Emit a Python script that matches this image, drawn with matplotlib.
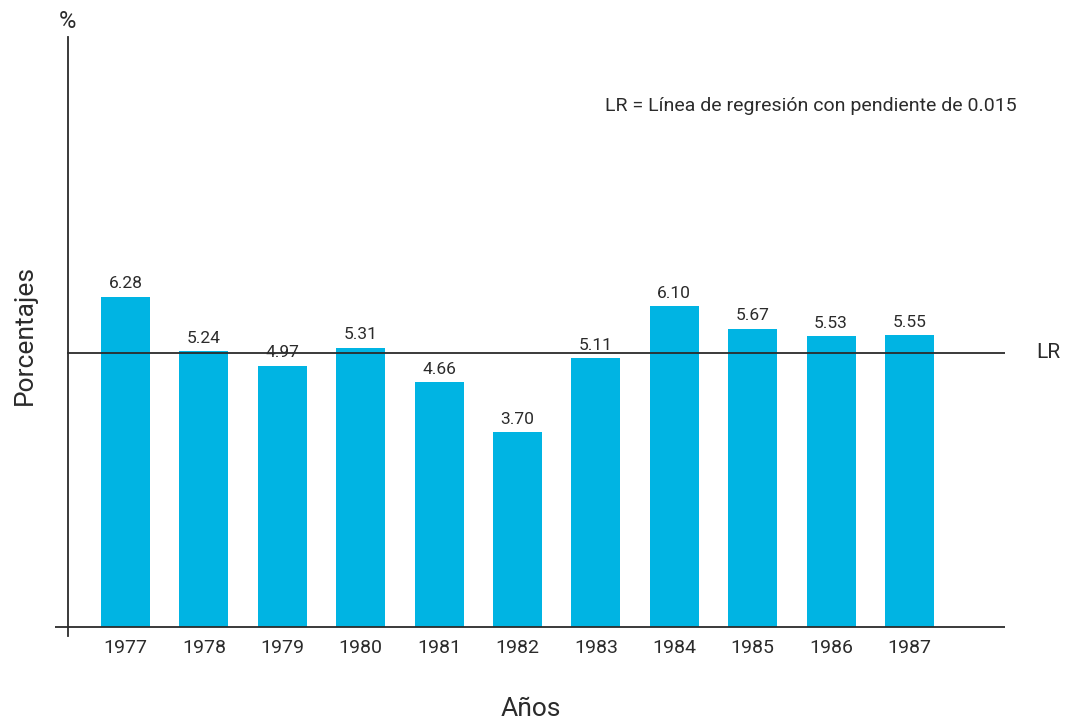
import matplotlib
matplotlib.use("Agg")
import matplotlib.pyplot as plt

years = ["1977", "1978", "1979", "1980", "1981", "1982", "1983", "1984", "1985", "1986", "1987"]
values = [6.28, 5.24, 4.97, 5.31, 4.66, 3.70, 5.11, 6.10, 5.67, 5.53, 5.55]
value_labels = ["6.28", "5.24", "4.97", "5.31", "4.66", "3.70", "5.11", "6.10", "5.67", "5.53", "5.55"]
lr_level = 5.21

plt.rcParams['font.family'] = ['Roboto', 'DejaVu Sans']
TXT = '#2b2b2b'
BAR = '#00B4E3'

W, H = 1065, 723
fig = plt.figure(figsize=(W / 100, H / 100), dpi=100)
# axes spanning px x 55..1005, y 37..636
ax = fig.add_axes([55 / W, 1 - 636 / H, (1005 - 55) / W, (636 - 37) / H])
step = 78.4
x0 = 125.5
ax.set_xlim((55 - x0) / step, (1005 - x0) / step)
scale = 52.6
ax.set_ylim(-(636 - 627) / scale, (627 - 37) / scale)
ax.axis('off')

xs = list(range(len(years)))
ax.bar(xs, values, width=0.625, color=BAR, zorder=2)
for x, v, lab in zip(xs, values, value_labels):
    ax.text(x, v + 0.1, lab, ha='center', va='bottom', fontsize=12.5, color=TXT)
    ax.text(x, -0.22, years[x], ha='center', va='top', fontsize=14, color=TXT)

yaxis_x = (68 - x0) / step
ax.plot([yaxis_x, yaxis_x], [-(636 - 627) / scale, (627 - 37) / scale], color=TXT, lw=1.3, zorder=3, clip_on=False)
ax.axhline(0, color=TXT, lw=1.3, zorder=3)
ax.plot([yaxis_x, (1005 - x0) / step], [lr_level, lr_level], color=TXT, lw=1.3, zorder=3)
ax.text((1036 - x0) / step, lr_level, "LR", ha='left', va='center', fontsize=15, color=TXT)

fig.text(67 / W, 1 - 22 / H, "%", ha='center', va='center', fontsize=17, color=TXT)
fig.text(25 / W, 1 - 335 / H, "Porcentajes", rotation=90, ha='center', va='center', fontsize=19, color=TXT)
fig.text(531 / W, 1 - 709 / H, "Años", ha='center', va='center', fontsize=19, color=TXT)
fig.text(1017 / W, 1 - 106 / H, "LR = Línea de regresión con pendiente de 0.015", ha='right', va='center', fontsize=14, color=TXT)

fig.savefig("out.png", dpi=100)
